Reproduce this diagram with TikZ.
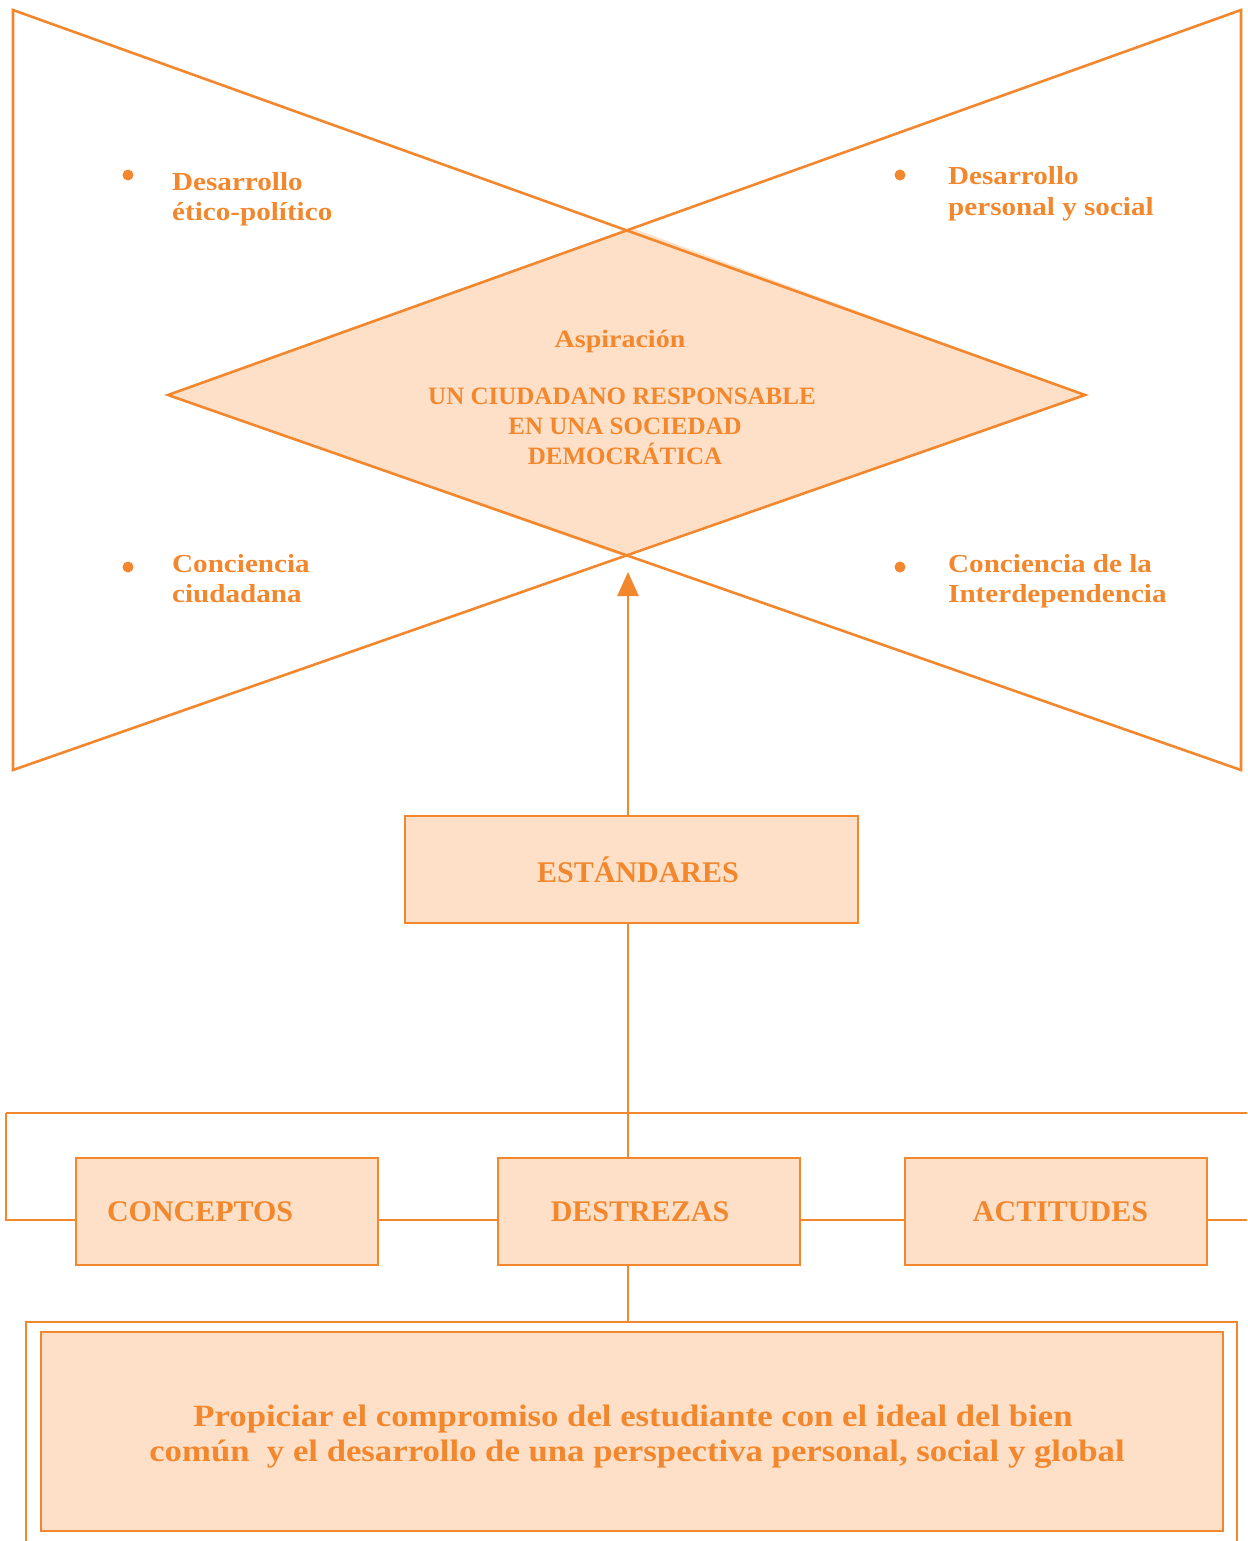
\documentclass[tikz,border=0pt]{standalone}
\usepackage{fontspec}
\setmainfont{Liberation Serif}
\newfontfamily\widefont[FakeStretch=1.12]{Liberation Serif}
\usetikzlibrary{arrows.meta}
\definecolor{org}{RGB}{242,135,45}
\definecolor{lorg}{RGB}{253,224,199}
\begin{document}
\begin{tikzpicture}[x=1pt,y=-1pt,
  ln/.style={draw=org,line width=2.6pt},
  boxst/.style={draw=org,fill=lorg,line width=2.6pt,minimum width=302pt,minimum height=107pt,inner sep=0pt,font=\fontsize{30}{34}\selectfont\bfseries,text=org},
  lbl/.style={font=\fontsize{25}{30}\selectfont\bfseries,text=org,inner sep=0pt},
  wlbl/.style={font=\widefont\fontsize{26}{30}\selectfont\bfseries,text=org,inner sep=0pt},
  dot/.style={circle,fill=org,inner sep=0pt,minimum size=11pt}]
\useasboundingbox (0,0) rectangle (1247,1541);
% bow-tie and diamond
\coordinate (tl) at (13,10);
\coordinate (bl) at (13,770);
\coordinate (tr) at (1241,10);
\coordinate (br) at (1241,770);
\coordinate (dt) at (627,230);
\coordinate (dr) at (1085,395);
\coordinate (db) at (627,553);
\coordinate (dl) at (168,395);
\fill[lorg] (633,228.5) -- (dr) -- (621,555.5) -- (dl) -- cycle;
\draw[ln,line join=miter] (dr) -- (tl) -- (bl) -- cycle;
\draw[ln,line join=miter] (dl) -- (tr) -- (br) -- cycle;
% diamond text
\node[wlbl,font=\widefont\fontsize{25}{30}\selectfont\bfseries,anchor=base] (asp) at (620,347) {Aspiración};
\node[lbl,anchor=base] (d1) at (622,404) {UN CIUDADANO RESPONSABLE};
\node[lbl,anchor=base] (d2) at (625,434) {EN UNA SOCIEDAD};
\node[lbl,anchor=base] (d3) at (625,464) {DEMOCRÁTICA};
% bullets
\node[dot] (b1) at (128,175) {};
\node[dot] (b2) at (900,175) {};
\node[dot] (b3) at (128,567) {};
\node[dot] (b4) at (900,567) {};
\node[wlbl,anchor=base west] (t1a) at (172,190) {Desarrollo};
\node[wlbl,anchor=base west] (t1b) at (172,220) {ético-político};
\node[wlbl,anchor=base west] (t2a) at (948,185) {Desarrollo};
\node[wlbl,anchor=base west] (t2b) at (948,215) {personal y social};
\node[wlbl,anchor=base west] (t3a) at (172,572) {Conciencia};
\node[wlbl,anchor=base west] (t3b) at (172,602) {ciudadana};
\node[wlbl,anchor=base west] (t4a) at (948,572) {Conciencia de la};
\node[wlbl,anchor=base west] (t4b) at (948,602) {Interdependencia};
% estandares
\node[boxst,minimum width=453pt] (est) at (631.5,869.5) {\hspace*{13pt}ESTÁNDARES};
\coordinate (tip) at (628,572);
\draw[ln,-{Triangle[length=24pt,width=21pt]}] (est.north -| tip) -- (tip);
% bottom boxes
\node[boxst,text width=240pt,align=left] (conc) at (227,1211.5) {CONCEPTOS};
\node[boxst] (dest) at (649,1211.5) {\hspace*{-18pt}DESTREZAS};
\node[boxst] (act) at (1056,1211.5) {\hspace*{9pt}ACTITUDES};
\coordinate (hl) at (6,1113);
\coordinate (hr) at (1247,1113);
\coordinate (rr) at (1247,1220);
\draw[ln] (hl) -- (hr);
\draw[ln] (est.south -| tip) -- (tip |- dest.north);
\draw[ln] (hl) -- (6,1220) -- (conc.west |- 0,1220);
\draw[ln] (conc.east |- 0,1220) -- (dest.west |- 0,1220);
\draw[ln] (dest.east |- 0,1220) -- (act.west |- 0,1220);
\draw[ln] (act.east |- 0,1220) -- (rr);
% frame
\coordinate (ftop) at (628,1322);
\draw[ln] (tip |- dest.south) -- (ftop);
\draw[ln] (26,1545) -- (26,1322) -- (1237,1322) -- (1237,1545);
\node[draw=org,fill=lorg,line width=2.6pt,minimum width=1182pt,minimum height=199pt,inner sep=0pt] (goal) at (632,1431.5) {};
\node[font=\widefont\fontsize{31}{35}\selectfont\bfseries,text=org,inner sep=0pt,anchor=base] (g1) at (633,1426) {Propiciar el compromiso del estudiante con el ideal del bien};
\node[font=\widefont\fontsize{31}{35}\selectfont\bfseries,text=org,inner sep=0pt,anchor=base] (g2) at (637,1461) {común\ \ y el desarrollo de una perspectiva personal, social y global};
\end{tikzpicture}
\end{document}
